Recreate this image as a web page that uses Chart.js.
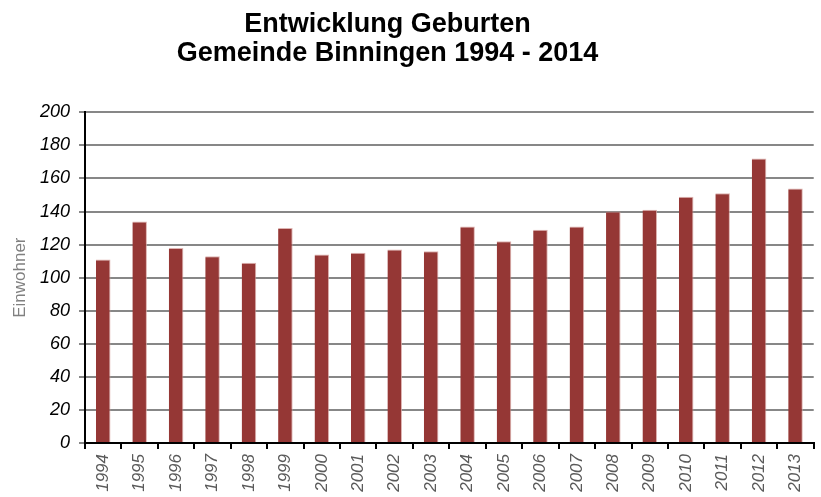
<!DOCTYPE html>
<html lang="de">
	<head>
		<meta charset="UTF-8" />
		<title>Entwicklung Geburten</title>
		<script src="https://cdn.jsdelivr.net/npm/chart.js"></script>
		<style>
			html,
			body {
				margin: 0;
				padding: 0;
				background: #fff;
			}
			#wrap {
				width: 821px;
				height: 497px;
			}
		</style>
	</head>
	<body>
		<div id="wrap"><canvas id="myChart"></canvas></div>

		<script>
			var years = [
				"1994", "1995", "1996", "1997", "1998", "1999", "2000",
				"2001", "2002", "2003", "2004", "2005", "2006", "2007",
				"2008", "2009", "2010", "2011", "2012", "2013",
			];
			var births = [
				111, 134, 118, 113, 109, 130, 114, 115, 117, 116,
				131, 122, 129, 131, 140, 141, 149, 151, 172, 154,
			];
			var yMin = 0;
			var yMax = 200;
			var yStep = 20;

			var fontFamily = "'Liberation Sans', Arial, sans-serif";

			// the original title sits a bit left of the page centre
			var shiftTitle = {
				id: "shiftTitle",
				afterLayout: function (chart) {
					if (chart.titleBlock) {
						chart.titleBlock.left -= 21;
						chart.titleBlock.right -= 21;
					}
				},
			};

			var ctx = document.getElementById("myChart").getContext("2d");
			var myChart = new Chart(ctx, {
				type: "bar",
				plugins: [shiftTitle],
				data: {
					labels: years,
					datasets: [
						{
							label: "Geburten",
							data: births,
							backgroundColor: "#953735",
							borderColor: "rgba(214,160,158,0.8)",
							borderWidth: { right: 1, top: 1, left: 0, bottom: 0 },
							borderSkipped: "bottom",
							barPercentage: 0.4,
							categoryPercentage: 1,
						},
					],
				},
				options: {
					responsive: true,
					maintainAspectRatio: false,
					animation: false,
					layout: {
						padding: { left: 0, right: 4, top: 0, bottom: 0 },
					},
					plugins: {
						legend: { display: false },
						tooltip: { enabled: false },
						title: {
							display: true,
							text: ["Entwicklung Geburten", "Gemeinde Binningen 1994 - 2014"],
							color: "#000",
							font: { family: fontFamily, size: 27, weight: "bold", lineHeight: 1.08 },
							padding: { top: 10, bottom: 44 },
						},
					},
					scales: {
						x: {
							afterFit: function (scale) {
								scale.height = 54;
							},
							grid: {
								display: true,
								offset: true,
								drawOnChartArea: false,
								color: "#000",
								lineWidth: 2,
								tickLength: 6,
							},
							border: { display: true, color: "#000", width: 2 },
							ticks: {
								color: "#5a5a5a",
								minRotation: 90,
								maxRotation: 90,
								autoSkip: false,
								padding: 5,
								font: { family: fontFamily, size: 17, style: "italic" },
							},
						},
						y: {
							min: yMin,
							max: yMax,
							afterFit: function (scale) {
								scale.width = 85;
							},
							grid: {
								color: "#878787",
								lineWidth: 2,
								tickLength: 6,
							},
							border: { display: true, color: "#000", width: 2 },
							ticks: {
								stepSize: yStep,
								color: "#000",
								padding: 9,
								font: { family: fontFamily, size: 18, style: "italic" },
							},
							title: {
								display: true,
								text: "Einwohner",
								color: "#808080",
								font: { family: fontFamily, size: 17 },
								padding: { top: 10, bottom: 0 },
							},
						},
					},
				},
			});
		</script>
	</body>
</html>
